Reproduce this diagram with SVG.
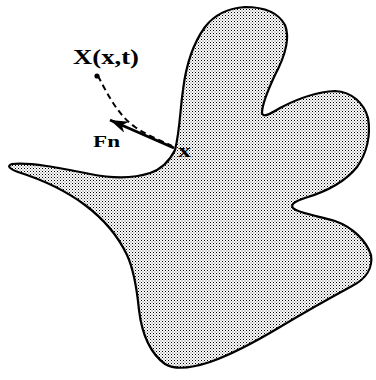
<svg xmlns="http://www.w3.org/2000/svg" width="376" height="380" viewBox="0 0 376 380">
<defs>
<pattern id="dots" width="3" height="3" patternUnits="userSpaceOnUse">
<rect width="3" height="3" fill="#fff"/>
<rect x="0" y="0" width="1" height="1" fill="#000"/>
<rect x="1.5" y="1.5" width="1" height="1" fill="#555"/>
</pattern>
<marker id="arr" markerWidth="20" markerHeight="12" refX="18" refY="6" orient="auto" markerUnits="userSpaceOnUse">
<path d="M18,6 L0,0 L5,6 L0,12 Z" fill="#000"/>
</marker>
</defs>
<style>
.shape{fill:url(#dots);stroke:#000;stroke-width:2.2;stroke-linejoin:round}
.lbl{font-family:"Liberation Serif","Times New Roman",serif;font-weight:bold;fill:#000}
.con{fill:none;stroke:#000}
</style>
<g id="blob">
<path class="shape" d="M175,150 C180,130 180,110 183,90 C186,65 192,45 205,27 C215,14 230,8 245,7 C262,7 278,12 285,25 C291,40 283,60 275,75 C268,90 262,105 262,113 C263,118 270,114 280,108 C295,100 315,92 335,91 C352,92 364,103 368,118 C371,135 367,153 357,167 C345,182 325,192 305,198 C296,201 290,204 293,208 C298,213 318,216 335,221 C352,227 366,240 371,255 C373,268 366,279 352,286 C330,298 305,312 280,327 C255,342 230,355 210,362 C192,368 175,370 165,364 C150,353 142,335 139,310 C137,290 134,270 127,255 C118,236 105,220 85,205 C65,190 40,179 18,172 C10,169 6,166 12,164 C30,162 60,168 90,174 C115,179 135,178 150,173 C162,169 170,160 175,150 Z"/>
</g>
<g id="connectors">
<path class="con" d="M98,76 C108,95 118,115 135,127 C148,136 160,140 172,146" stroke-width="2" stroke-dasharray="6,4"/>
<line class="con" x1="174" y1="148" x2="110" y2="120" stroke-width="2.8" marker-end="url(#arr)"/>
</g>
<g id="point-X">
<circle cx="97" cy="76" r="2.6" fill="#000"/>
<text class="lbl" x="73" y="64" font-size="22" textLength="66" lengthAdjust="spacingAndGlyphs">X(x,t)</text>
</g>
<g id="label-Fn">
<text class="lbl" x="93" y="147" font-size="16" textLength="27" lengthAdjust="spacingAndGlyphs">Fn</text>
</g>
<g id="label-x">
<text class="lbl" x="178" y="157" font-size="18" textLength="13" lengthAdjust="spacingAndGlyphs">x</text>
</g>
</svg>
